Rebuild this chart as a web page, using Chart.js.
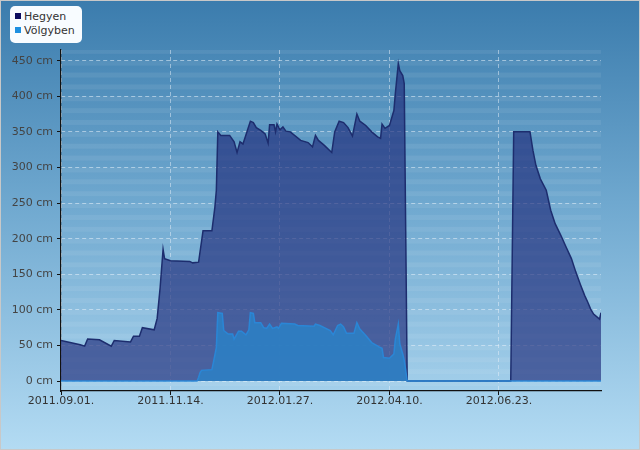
<!DOCTYPE html>
<html>
<head>
<meta charset="utf-8">
<script src="https://cdn.jsdelivr.net/npm/chart.js@4"></script>
<style>
  html, body { margin: 0; padding: 0; }
  #wrap {
    position: relative; width: 638px; height: 448px;
    border: 1px solid #c8c8c8;
    background: linear-gradient(to bottom, #3b7cad 0%, #6fa8cf 45%, #b3dbf3 100%);
  }
  #legend {
    position: absolute; left: 9px; top: 5px; width: 72px; height: 37px;
    background: #f8fcff; border-radius: 5px;
    font: 11px "DejaVu Sans", sans-serif; color: #333;
  }
  #legend div { position: absolute; left: 14px; white-space: nowrap; }
  #legend span { position: absolute; left: -9px; top: 3px; width: 6px; height: 6px; }
</style>
</head>
<body>
<div id="wrap">
  <canvas id="chart" width="638" height="448"></canvas>
  <div id="legend"></div>
</div>
<script>
// napok 2011.09.01. ota
const hegyenDays = [0, 13, 16, 18, 26, 34, 36, 47, 49, 53, 55, 63, 65, 67, 69, 70, 74, 87, 89, 93,
  96, 102, 104, 105, 106, 108, 114, 117, 119, 121, 123, 128, 130, 132, 135, 138, 140, 141, 144, 145,
  146, 148, 150, 152, 155, 162, 167, 170, 172, 174, 178, 183, 185, 188, 191, 194, 197, 200, 202, 206,
  210, 214, 216, 217, 219, 222, 225, 226, 228, 229, 231, 232, 233, 234, 304, 305, 306, 317, 319, 321,
  324, 328, 331, 334, 338, 341, 345, 348, 351, 354, 356, 358, 360, 364, 365];
const hegyenCm = [57, 51, 49, 59, 58, 49, 57, 55, 63, 63, 75, 72, 88, 131, 185, 172, 169, 168, 166, 167,
  211, 211, 244, 268, 350, 345, 345, 336, 321, 336, 333, 365, 363, 356, 352, 347, 334, 360, 360, 350,
  361, 353, 357, 351, 350, 338, 335, 329, 345, 338, 331, 321, 350, 365, 363, 356, 344, 375, 365, 359,
  350, 343, 341, 361, 355, 359, 380, 404, 446, 436, 429, 418, 211, 0, 0, 175, 350, 350, 324, 303,
  284, 268, 240, 221, 204, 190, 172, 153, 136, 120, 111, 101, 94, 87, 96];

const volgyDays = [0, 92, 93, 94, 95, 102, 103, 105, 106, 109, 110, 113, 116, 117, 120, 122, 125, 127,
  128, 130, 131, 135, 137, 139, 141, 143, 146, 147, 149, 158, 160, 171, 172, 175, 182, 184, 187, 189,
  191, 193, 198, 200, 202, 206, 210, 215, 217, 218, 222, 225, 226, 228, 229, 231, 232, 233, 234, 365];
const volgyCm = [0, 0, 5, 12, 15, 16, 26, 47, 96, 95, 71, 66, 66, 59, 70, 70, 65, 72,
  96, 95, 82, 82, 75, 74, 80, 74, 76, 74, 81, 80, 78, 77, 80, 78, 71, 65, 78, 80,
  76, 67, 67, 82, 73, 64, 54, 48, 46, 33, 32, 38, 59, 80, 52, 38, 29, 15, 0, 0];

const xTickDays = [0, 74, 148, 222, 296];
const xTickLabels = ['2011.09.01.', '2011.11.14.', '2012.01.27.', '2012.04.10.', '2012.06.23.'];
const yTicks = [0, 50, 100, 150, 200, 250, 300, 350, 400, 450];

const seriesNames = ['Hegyen', 'Völgyben'];
const legendColors = ['#0c0c5e', '#1e90e0'];

function toPoints(days, vals) {
  return days.map((d, i) => ({ x: d, y: vals[i] }));
}

// csikos hatter a rajzteruleten
const stripes = {
  id: 'stripes',
  beforeDatasetsDraw(chart) {
    const { ctx, chartArea, scales } = chart;
    const y = scales.y;
    ctx.save();
    ctx.fillStyle = 'rgba(255,255,255,0.07)';
    for (let v = 450 + 50 / 3; v > y.min; v -= 50 / 3) {
      const top = y.getPixelForValue(v);
      const bot = y.getPixelForValue(v - 7);
      const t = Math.max(top, chartArea.top);
      if (bot > t) ctx.fillRect(chartArea.left, t, chartArea.right - chartArea.left, bot - t);
    }
    ctx.restore();
  }
};

const ctx = document.getElementById('chart');
new Chart(ctx, {
  type: 'line',
  data: {
    datasets: [{
      label: seriesNames[0],
      data: toPoints(hegyenDays, hegyenCm),
      borderColor: '#1d2d6e',
      borderWidth: 1.5,
      backgroundColor: 'rgba(30,42,122,0.66)',
      fill: 'origin',
      pointRadius: 0,
      tension: 0,
      order: 2
    }, {
      label: seriesNames[1],
      data: toPoints(volgyDays, volgyCm),
      borderColor: '#2a86d6',
      borderWidth: 1.5,
      backgroundColor: 'rgba(46,126,194,0.95)',
      fill: 'origin',
      pointRadius: 0,
      tension: 0,
      order: 1
    }]
  },
  options: {
    responsive: false,
    animation: false,
    layout: { padding: { top: 49, right: 38, left: 0, bottom: 0 } },
    plugins: { legend: { display: false }, tooltip: { enabled: false } },
    scales: {
      x: {
        type: 'linear',
        min: 0,
        max: 365,
        afterBuildTicks: s => { s.ticks = xTickDays.map(v => ({ value: v })); },
        afterFit: s => { s.height = 58; },
        ticks: {
          color: '#333',
          font: { family: 'DejaVu Sans', size: 11 },
          padding: 0,
          maxRotation: 0,
          autoSkip: false,
          callback: (v) => xTickLabels[xTickDays.indexOf(v)]
        },
        grid: {
          color: 'rgba(230,240,250,0.5)',
          tickColor: '#111',
          tickLength: 4,
          tickBorderDash: []
        },
        border: { color: '#111', width: 1.2, dash: [4, 3] }
      },
      y: {
        min: -14,
        max: 465,
        afterBuildTicks: s => { s.ticks = yTicks.map(v => ({ value: v })); },
        afterFit: s => { s.width = 60; },
        ticks: {
          color: '#444',
          font: { family: 'DejaVu Sans', size: 11 },
          padding: 4,
          callback: v => v + ' cm'
        },
        grid: {
          color: 'rgba(230,240,250,0.55)',
          tickColor: '#111',
          tickLength: 4,
          tickBorderDash: []
        },
        border: { color: '#111', width: 1.2, dash: [4, 3] }
      }
    }
  },
  plugins: [stripes]
});

const legend = document.getElementById('legend');
seriesNames.forEach((name, i) => {
  const row = document.createElement('div');
  row.style.top = (4 + i * 14) + 'px';
  row.innerHTML = '<span style="background:' + legendColors[i] + '"></span>' + name;
  legend.appendChild(row);
});
</script>
</body>
</html>
